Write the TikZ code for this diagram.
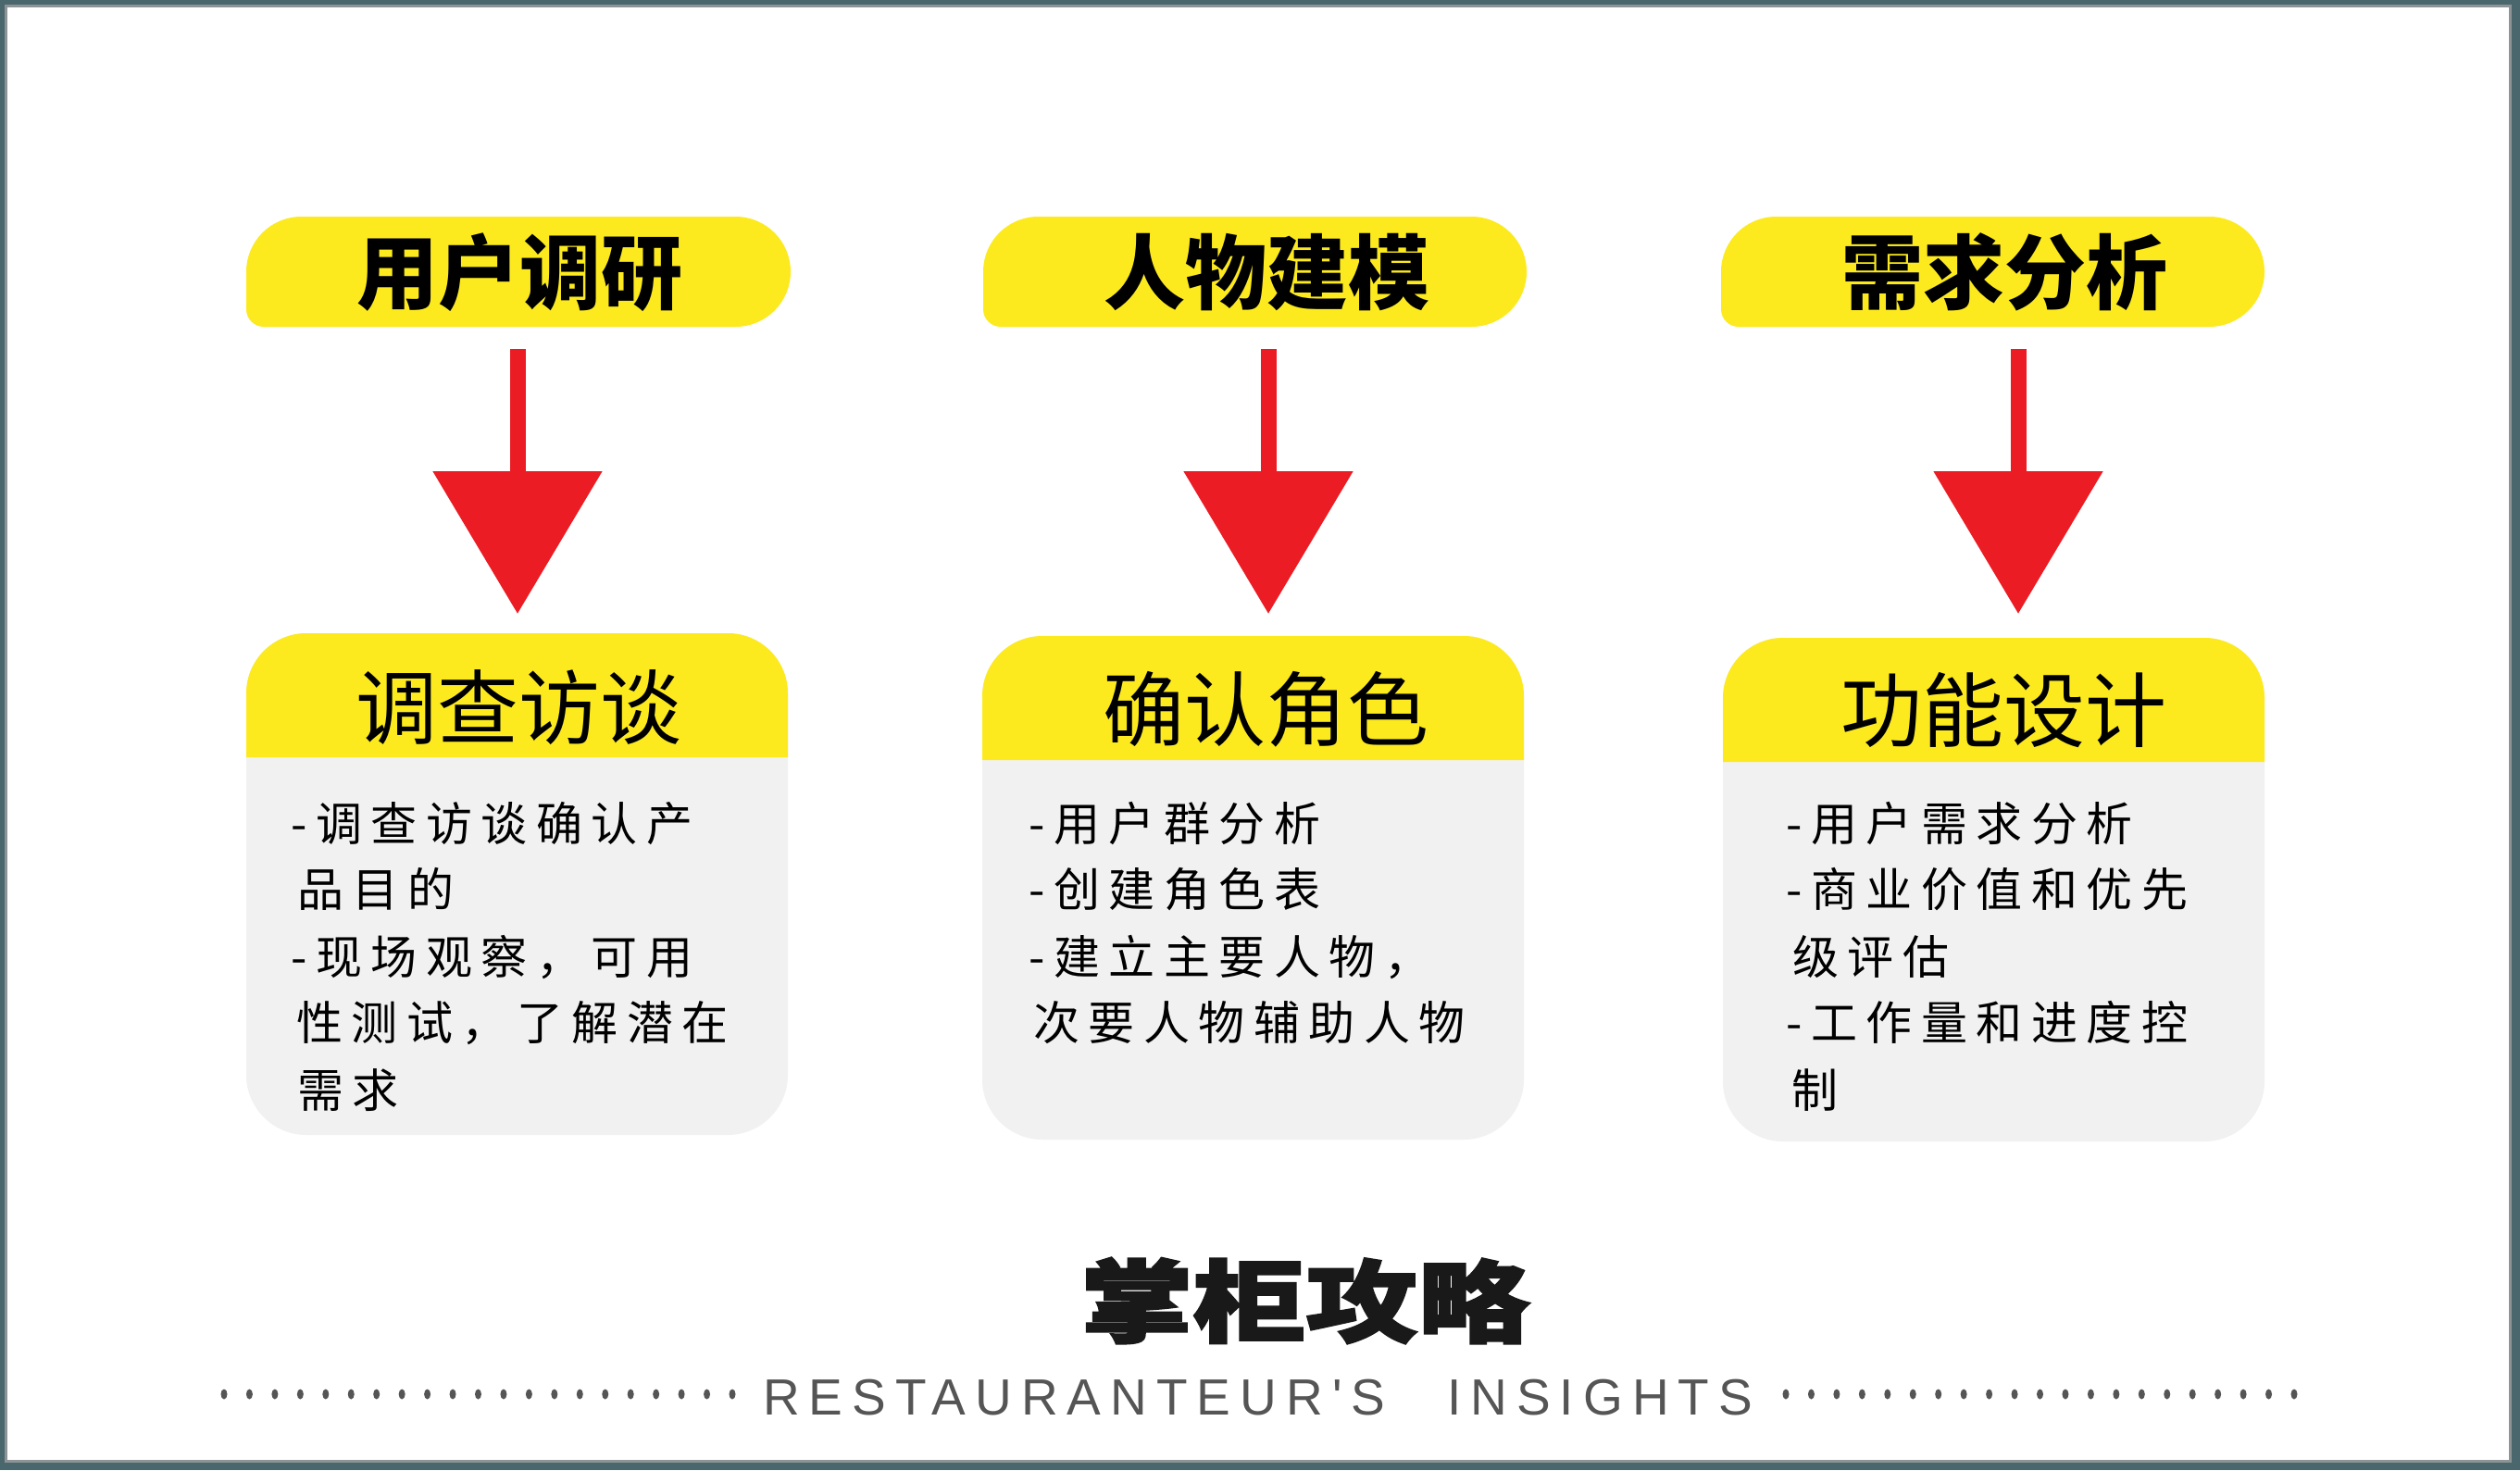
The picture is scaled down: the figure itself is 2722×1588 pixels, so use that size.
\documentclass[tikz,border=0pt]{standalone}
\usepackage{fontspec}
\usepackage{graphicx}
\usetikzlibrary{arrows.meta}
\newfontfamily\cjk{Noto Sans CJK SC}
\newfontfamily\cjkbody{Noto Sans CJK SC}[LetterSpace=19]
\newfontfamily\cjkheavy{Noto Sans CJK SC}[BoldFeatures={FakeBold=2}]
\newfontfamily\engsans{Liberation Sans}[LetterSpace=18.2]
\definecolor{framec}{HTML}{4A676E}
\definecolor{framegray}{HTML}{8E9496}
\definecolor{yel}{HTML}{FCEA1F}
\definecolor{redc}{HTML}{EC1C24}
\definecolor{boxgray}{HTML}{F1F1F1}
\definecolor{graytext}{HTML}{555555}
\newcommand\mypill[2]{%
  \fill[yel] (#1,293.5) arc[start angle=180,end angle=270,radius=59.5]
    -- ({#2-59.5},234) arc[start angle=-90,end angle=90,radius=59.5]
    -- ({#1+19},353) arc[start angle=90,end angle=180,radius=19] -- cycle;}
\newcommand\mybox[5]{%
  \fill[boxgray,rounded corners=65pt] (#1,#3) rectangle (#2,#4);
  \fill[yel] (#1,#5) -- (#1,{#3+65}) arc[start angle=180,end angle=270,radius=65]
    -- ({#2-65},#3) arc[start angle=270,end angle=360,radius=65] -- (#2,#5) -- cycle;}
\tikzset{
  pilltext/.style={inner sep=0pt,font={\cjk\bfseries\fontsize{88pt}{88pt}\selectfont}},
  titletext/.style={inner sep=0pt,font={\cjk\fontsize{88pt}{88pt}\selectfont}},
  bodyline/.style={anchor=west,inner sep=0pt,text height=44pt,text depth=6pt,
    font={\cjkbody\fontsize{50pt}{50pt}\selectfont}},
  engtext/.style={anchor=base west,inner sep=0pt,text=graytext,
    font={\engsans\fontsize{55pt}{55pt}\selectfont}},
  redarrow/.style={draw=redc,line width=17pt,
    -{Triangle[width=179pt,length=154pt]},shorten <=24pt,shorten >=23pt},
}
\begin{document}
\begin{tikzpicture}[x=1pt,y=-1pt]
\useasboundingbox (0,0) rectangle (2722,1588);
\fill[framec] (0,0) rectangle (2722,1588);
\fill[framegray] (5,5) rectangle (2713,1580);
\fill[white] (8,8) rectangle (2710,1577);

% header pills
\mypill{266}{854}
\mypill{1062}{1649}
\mypill{1859}{2446}
\node[pilltext] (h1) at (561,294) {用户调研};
\node[pilltext] (h2) at (1368,294) {人物建模};
\node[pilltext] (h3) at (2165,294) {需求分析};

% boxes
\mybox{266}{851}{684}{1226}{818}
\mybox{1061}{1646}{687}{1231}{821}
\mybox{1861}{2446}{689}{1233}{823}
\node[titletext] (t1) at (560,764) {调查访谈};
\node[titletext] (t2) at (1367,766) {确认角色};
\node[titletext] (t3) at (2164,767) {功能设计};

% arrows
\coordinate (p1) at (559,353);  \coordinate (b1) at (559,686);
\coordinate (p2) at (1370,353); \coordinate (b2) at (1370,686);
\coordinate (p3) at (2180,353); \coordinate (b3) at (2180,686);
\draw[redarrow] (p1) -- (b1);
\draw[redarrow] (p2) -- (b2);
\draw[redarrow] (p3) -- (b3);

% body text box 1
\node[bodyline] (l11) at (314,889) {-调查访谈确认产};
\node[bodyline] (l12) at (321,960) {品目的};
\node[bodyline] (l13) at (314,1033) {-现场观察，可用};
\node[bodyline] (l14) at (320,1104) {性测试，了解潜在};
\node[bodyline] (l15) at (321,1177) {需求};
% body text box 2
\node[bodyline] (l21) at (1111,889) {-用户群分析};
\node[bodyline] (l22) at (1111,960) {-创建角色表};
\node[bodyline] (l23) at (1111,1033) {-建立主要人物，};
\node[bodyline] (l24) at (1116,1104) {次要人物辅助人物};
% body text box 3
\node[bodyline] (l31) at (1929,889) {-用户需求分析};
\node[bodyline] (l32) at (1929,960) {-商业价值和优先};
\node[bodyline] (l33) at (1936,1033) {级评估};
\node[bodyline] (l34) at (1929,1104) {-工作量和进度控};
\node[bodyline] (l35) at (1935,1177) {制};

% bottom logo
\node[inner sep=0pt,text=black!90,font={\cjkheavy\bfseries\fontsize{97pt}{97pt}\selectfont}] (logo) at (1410,1405) {\scalebox{1.25}[1]{掌柜攻略}};
\node[engtext] (en1) at (824,1528) {RESTAURANTEUR'S};
\node[engtext] (en2) at (1563,1528) {INSIGHTS};
\foreach \i in {0,...,20} {
  \fill[graytext] ({242+27.45*\i},1506) ellipse [x radius=3.5, y radius=5.5];
  \fill[graytext] ({1929+27.45*\i},1506) ellipse [x radius=3.5, y radius=5.5];
}
\end{tikzpicture}
\end{document}
